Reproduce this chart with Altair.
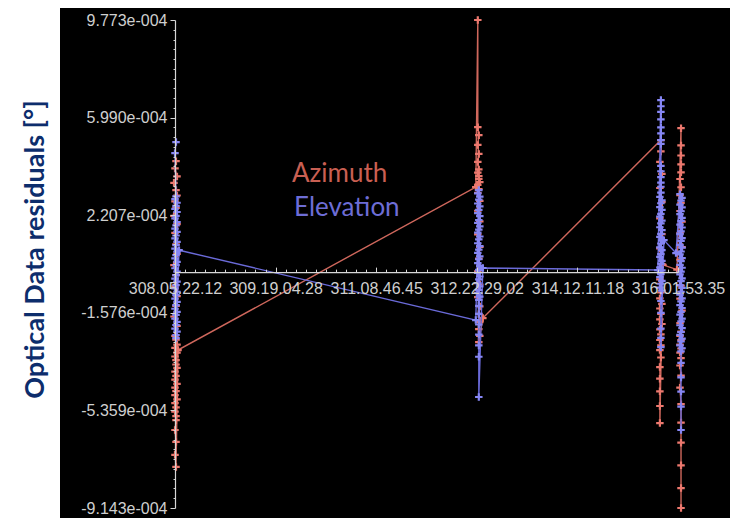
import json
import altair as alt
import pandas as pd

# ---------------- data ----------------
X_LABELS = ["308.05.22.12", "309.19.04.28", "311.08.46.45",
            "312.22.29.02", "314.12.11.18", "316.01.53.35"]
Y_TICKS = [-9.143e-4, -5.359e-4, -1.576e-4, 2.207e-4, 5.990e-4, 9.773e-4]
Y_LABELS = ["-9.143e-004", "-5.359e-004", "-1.576e-004", "2.207e-004", "5.990e-004", "9.773e-004"]
LEGEND_LABELS = ["Azimuth", "Elevation"]
Y_TITLE = "Optical Data residuals [°]"

# (time in label-interval units, residual in 1e-4 deg), in acquisition order
AZ_PASS1 = [(0.01, 4.30), (0.00, 4.02), (0.02, 3.71), (-0.01, 3.46), (0.01, 3.18), (0.02, 2.97),
            (0.00, 2.74), (0.01, 2.49), (-0.01, 2.18), (0.02, 1.86), (0.00, 1.52), (0.01, 1.08),
            (0.02, 0.71), (-0.01, 0.27), (0.01, -0.12), (0.00, -0.55), (0.02, -0.93), (0.01, -1.31),
            (-0.01, -1.72), (0.02, -2.08), (0.00, -2.47), (0.01, -2.62), (0.02, -2.81), (0.00, -2.94),
            (0.02, -3.12), (0.00, -3.27), (0.01, -3.41), (0.01, -3.58), (0.02, -3.71), (0.00, -3.86),
            (0.01, -4.02), (0.00, -4.17), (0.02, -4.33), (0.00, -4.48), (0.01, -4.61), (0.00, -4.77),
            (0.02, -4.93), (0.00, -5.08), (0.01, -5.24), (0.00, -5.41), (0.01, -5.58), (0.01, -5.74),
            (0.00, -6.12), (0.01, -6.58), (0.00, -7.08), (0.01, -7.55), (0.03, -3.02)]
AZ_PASS2 = [(2.99, 3.30), (3.01, 9.773), (3.01, 5.62), (3.02, 5.31), (3.01, 4.93), (3.02, 4.58),
            (3.01, 4.27), (3.02, 3.98), (3.01, 3.86), (3.02, 3.72), (3.02, 3.61), (3.03, 3.49),
            (3.01, 3.38), (3.02, 3.22), (3.01, 3.07), (3.03, 2.76), (3.01, 2.38), (3.03, 1.97),
            (3.01, 1.46), (3.03, 0.98), (3.02, 0.52), (3.01, 0.03), (3.03, -0.48), (3.01, -0.97),
            (3.03, -1.33), (3.02, -1.62), (3.03, -1.94), (3.02, -2.21), (3.03, -2.47), (3.02, -2.71),
            (3.06, -1.78)]
AZ_PASS3 = [(4.83, 5.12), (4.83, 4.68), (4.82, 4.27), (4.84, 3.81), (4.82, 3.26), (4.84, 2.71),
            (4.82, 2.08), (4.84, 1.47), (4.82, 0.92), (4.84, 0.31), (4.82, -0.28), (4.83, -0.79),
            (4.82, -1.02), (4.84, -1.23), (4.82, -1.41), (4.83, -1.62), (4.82, -1.83), (4.84, -2.01),
            (4.82, -2.22), (4.83, -2.41), (4.82, -2.63), (4.83, -2.84), (4.82, -3.02), (4.83, -3.31),
            (4.82, -3.68), (4.82, -4.13), (4.82, -4.62), (4.82, -5.19), (4.82, -5.85), (4.85, 0.28)]
AZ_PASS4 = [(4.99, 0.10), (5.03, 5.58), (5.03, 4.91), (5.03, 4.52), (5.03, 4.18), (5.03, 3.87),
            (5.02, 3.61), (5.03, 3.29), (5.02, 2.98), (5.03, 2.68), (5.02, 2.37), (5.04, 1.96),
            (5.02, 1.51), (5.04, 0.97), (5.02, 0.48), (5.03, -0.52), (5.02, -1.03), (5.04, -1.49),
            (5.02, -1.98), (5.03, -2.31), (5.02, -2.47), (5.03, -2.63), (5.02, -2.81), (5.03, -2.96),
            (5.02, -3.12), (5.03, -3.33), (5.02, -3.62), (5.03, -4.01), (5.02, -4.48), (5.03, -5.12),
            (5.03, -5.83), (5.03, -6.61), (5.03, -7.49), (5.03, -8.37), (5.03, -9.143)]

EL_PASS1 = [(0.01, 5.04), (0.00, 4.61), (0.01, 2.94), (0.00, 2.83), (0.02, 2.69), (0.01, 2.57),
            (0.00, 2.45), (0.02, 2.33), (0.01, 2.18), (0.00, 2.08), (0.02, 1.94), (0.01, 1.81),
            (0.00, 1.69), (0.02, 1.56), (0.01, 1.42), (0.00, 1.31), (0.02, 1.17), (0.01, 1.05),
            (0.00, 0.91), (0.02, 0.79), (0.01, 0.66), (0.00, 0.53), (0.02, 0.40), (0.01, 0.27),
            (0.00, 0.15), (0.02, 0.02), (0.01, -0.12), (0.00, -0.25), (0.02, -0.37), (0.01, -0.50),
            (0.00, -0.63), (0.02, -0.76), (0.01, -0.89), (0.00, -1.03), (0.02, -1.15), (0.01, -1.28),
            (0.00, -1.42), (0.02, -1.54), (0.01, -1.66), (0.00, -1.80), (0.02, -1.93), (0.01, -2.05),
            (0.00, -2.19), (0.02, -2.31), (0.01, -2.44), (0.01, -2.56), (0.04, 0.85)]
EL_PASS2 = [(2.99, -1.86), (3.02, 3.18), (3.01, 3.05), (3.03, 2.93), (3.02, 2.81), (3.01, 2.66),
            (3.03, 2.55), (3.02, 2.41), (3.01, 2.29), (3.03, 2.17), (3.02, 2.02), (3.01, 1.91),
            (3.03, 1.77), (3.02, 1.65), (3.01, 1.53), (3.03, 1.38), (3.02, 1.27), (3.01, 1.12),
            (3.03, 1.01), (3.02, 0.87), (3.01, 0.75), (3.03, 0.61), (3.02, 0.50), (3.01, 0.35),
            (3.03, 0.24), (3.02, 0.09), (3.01, -0.03), (3.03, -0.17), (3.02, -0.28), (3.01, -0.43),
            (3.03, -0.55), (3.02, -0.69), (3.01, -0.80), (3.03, -0.95), (3.02, -1.08), (3.02, -1.31),
            (3.02, -1.62), (3.02, -2.03), (3.02, -2.42), (3.02, -2.84), (3.02, -3.28), (3.02, -4.84),
            (3.06, 0.16)]
EL_PASS3 = [(4.80, 0.08), (4.83, 6.67), (4.83, 6.43), (4.83, 6.21), (4.83, 5.92), (4.83, 5.61),
            (4.83, 5.38), (4.83, 5.12), (4.83, 4.97), (4.83, 4.12), (4.83, 3.91), (4.83, 3.68),
            (4.83, 3.47), (4.83, 3.31), (4.83, 3.08), (4.82, 2.92), (4.84, 2.78), (4.83, 2.67),
            (4.82, 2.52), (4.84, 2.41), (4.83, 2.26), (4.82, 2.15), (4.84, 2.00), (4.83, 1.89),
            (4.82, 1.74), (4.84, 1.63), (4.83, 1.48), (4.82, 1.37), (4.84, 1.22), (4.83, 1.11),
            (4.82, 0.96), (4.84, 0.85), (4.83, 0.70), (4.82, 0.59), (4.84, 0.44), (4.83, 0.33),
            (4.82, 0.18), (4.84, 0.07), (4.83, -0.08), (4.82, -0.19), (4.84, -0.34), (4.83, -0.45),
            (4.82, -0.60), (4.84, -0.72), (4.83, -1.12), (4.83, -1.58), (4.83, -2.19), (4.83, -2.55),
            (4.83, -2.91), (4.86, 1.24)]
EL_PASS4 = [(4.98, 0.74), (5.02, 3.02), (5.04, 2.88), (5.03, 2.77), (5.02, 2.62), (5.04, 2.51),
            (5.03, 2.36), (5.02, 2.25), (5.04, 2.10), (5.03, 1.99), (5.02, 1.84), (5.04, 1.73),
            (5.03, 1.58), (5.02, 1.47), (5.04, 1.32), (5.03, 1.21), (5.02, 1.06), (5.04, 0.95),
            (5.03, 0.80), (5.02, 0.69), (5.04, 0.54), (5.03, 0.43), (5.02, 0.28), (5.04, 0.17),
            (5.03, 0.02), (5.02, -0.09), (5.04, -0.24), (5.03, -0.35), (5.02, -0.50), (5.04, -0.61),
            (5.03, -0.76), (5.02, -0.87), (5.04, -1.02), (5.03, -1.13), (5.02, -1.28), (5.04, -1.39),
            (5.03, -1.54), (5.02, -1.65), (5.04, -1.80), (5.03, -1.91), (5.02, -2.06), (5.04, -2.17),
            (5.03, -2.32), (5.02, -2.43), (5.04, -2.58), (5.03, -2.69), (5.02, -2.84), (5.04, -2.95),
            (5.03, -3.07), (5.03, -3.52), (5.03, -4.08), (5.03, -4.63), (5.03, -5.21), (5.03, -6.12)]


def build(passes):
    rows = []
    i = 0
    for p in passes:
        for t, r in p:
            rows.append({"t": t, "r": r * 1e-4, "i": i})
            i += 1
    return pd.DataFrame(rows)


az = build([AZ_PASS1, AZ_PASS2, AZ_PASS3, AZ_PASS4])
el = build([EL_PASS1, EL_PASS2, EL_PASS3, EL_PASS4])

# ---------------- layout / style ----------------
W, H = 503, 488
PAD_L, PAD_T, PAD_R, PAD_B = 167, 12, 52, 10
YMIN, YMAX = Y_TICKS[0], Y_TICKS[-1]
Z = H * YMAX / (YMAX - YMIN)          # pixel of the zero line from the plot top
NMAJ = len(Y_TICKS) - 1
MSTEP = (YMAX - YMIN) / (10 * NMAJ)

AXIS_COL = "#d6d6d6"
LABEL_COL = "#cfcfcf"
AZ_LINE, AZ_MARK = "#cf675c", "#ec786e"
EL_LINE, EL_MARK = "#6a6ad8", "#8686f4"
TICK_FONT = "Liberation Sans"

x_scale = alt.Scale(domain=[0, len(X_LABELS) - 1], nice=False, zero=False)
y_scale = alt.Scale(domain=[YMIN, YMAX], nice=False, zero=False)

y_minor = [YMIN + k * MSTEP for k in range(10 * NMAJ + 1)]
kexpr = f"((datum.value - ({YMIN})) / {MSTEP})"
major_y = f"abs({kexpr} / 10 - round({kexpr} / 10)) < 0.02"
ylab_arr = json.dumps(Y_LABELS).replace('"', "'")
y_axis = alt.Axis(
    values=y_minor,
    labelExpr=f"{major_y} ? {ylab_arr}[round({kexpr} / 10)] : ''",
    tickSize={"condition": {"test": major_y, "value": 5}, "value": 2},
    tickColor=AXIS_COL, domainColor=AXIS_COL, domainWidth=1.2,
    labelColor=LABEL_COL, labelFont=TICK_FONT, labelFontSize=16,
    labelPadding=3, labelOverlap=False, labelFlush=False, grid=False,
    title=Y_TITLE, titleColor="#0d2d6c", titleFont="Lato", titleFontWeight="bold",
    titleFontSize=27, titleAngle=270, titleX=-132, titleY=229,
    titleAlign="center", titleBaseline="alphabetic", zindex=1,
)
y_enc = alt.Y("r:Q", scale=y_scale, axis=y_axis)

xlab_arr = json.dumps(X_LABELS).replace('"', "'")
x_axis_labels = alt.Axis(
    orient="bottom", values=list(range(len(X_LABELS))),
    labelExpr=f"{xlab_arr}[round(datum.value)]",
    domain=False, ticks=False, grid=False, offset=-(H - Z),
    labelColor=LABEL_COL, labelFont=TICK_FONT, labelFontSize=16,
    labelPadding=8, labelOverlap=False, labelFlush=False, title=None, zindex=1,
)
major_x = "abs(datum.value - round(datum.value)) < 0.01"
x_axis_ticks = alt.Axis(
    orient="top", values=[k / 10 for k in range(10 * (len(X_LABELS) - 1) + 1)],
    labels=False, grid=False, offset=-Z,
    domainColor=AXIS_COL, domainWidth=1.2, tickColor=AXIS_COL,
    tickSize={"condition": {"test": major_x, "value": 5}, "value": 3},
    title=None, zindex=1,
)

CROSS = "M-1,0L1,0M0,-1L0,1"

bg = alt.Chart(pd.DataFrame({"k": [0]})).mark_rect(color="black").encode(
    x=alt.value(-115), x2=alt.value(W + PAD_R), y=alt.value(-PAD_T), y2=alt.value(H + PAD_B)
)

az_line = alt.Chart(az).mark_line(color=AZ_LINE, strokeWidth=1.4).encode(
    x=alt.X("t:Q", scale=x_scale, axis=x_axis_labels), y=y_enc, order="i:Q"
)
az_pts = alt.Chart(az).mark_point(shape=CROSS, filled=False, size=56, strokeWidth=2.2,
                                  color=AZ_MARK, opacity=1).encode(
    x=alt.X("t:Q", scale=x_scale, axis=None), y=y_enc
)
el_line = alt.Chart(el).mark_line(color=EL_LINE, strokeWidth=1.4).encode(
    x=alt.X("t:Q", scale=x_scale, axis=x_axis_ticks), y=y_enc, order="i:Q"
)
el_pts = alt.Chart(el).mark_point(shape=CROSS, filled=False, size=56, strokeWidth=2.2,
                                  color=EL_MARK, opacity=1).encode(
    x=alt.X("t:Q", scale=x_scale, axis=None), y=y_enc
)

leg_az = alt.Chart(pd.DataFrame({"txt": [LEGEND_LABELS[0]]})).mark_text(
    align="left", baseline="alphabetic", font="Lato", fontSize=26, color="#c95f52"
).encode(text="txt:N", x=alt.value(117), y=alt.value(162))
leg_el = alt.Chart(pd.DataFrame({"txt": [LEGEND_LABELS[1]]})).mark_text(
    align="left", baseline="alphabetic", font="Lato", fontSize=26, color="#6d6dd6"
).encode(text="txt:N", x=alt.value(119), y=alt.value(196))

chart = alt.layer(bg, az_line, az_pts, el_line, el_pts, leg_az, leg_el).resolve_axis(
    x="independent"
).properties(
    width=W, height=H,
    autosize=alt.AutoSizeParams(type="none"),
    padding={"left": PAD_L, "top": PAD_T, "right": PAD_R, "bottom": PAD_B},
    background="white",
).configure_view(stroke=None)

chart.save("out.html", embed_options={"renderer": "svg", "actions": False})
